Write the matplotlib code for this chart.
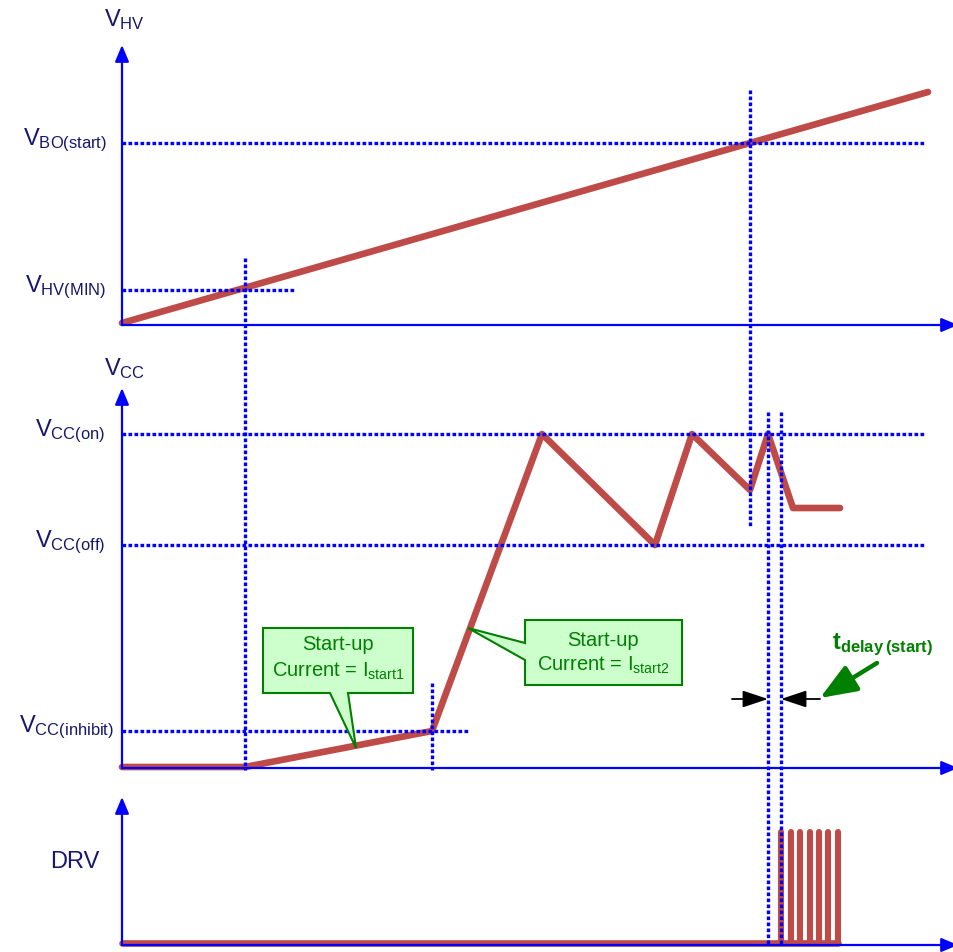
import matplotlib
matplotlib.use("Agg")
import matplotlib.pyplot as plt
from matplotlib.patches import Polygon

plt.rcParams['font.family'] = ['Liberation Sans', 'DejaVu Sans']
plt.rcParams['mathtext.fontset'] = 'custom'
plt.rcParams['mathtext.rm'] = 'Liberation Sans'
plt.rcParams['mathtext.bf'] = 'Liberation Sans:bold'
plt.rcParams['mathtext.default'] = 'regular'

RED = '#be4b48'
BLUE = '#0000ff'
NAVY = '#17176e'
GREEN = '#008000'

# everything in drawing units (x = time, y = screen height, top = 0)
x0 = 122
x_end = 958
hv_base, cc_base, drv_base = 325, 768, 945
hv_top, cc_top, drv_top = 45, 388, 797

# V_HV ramp
vhv_t = [122, 928]
vhv_v = [323, 92]
v_bo, v_hvmin = 143, 290

# V_CC waveform
vcc_t = [122, 245, 432, 542, 655, 692, 750, 768, 793, 840]
vcc_v = [767, 767, 731, 434, 545, 434, 490, 434, 508, 508]
v_ccon, v_ccoff, v_inhibit = 434, 545, 731

# DRV pulses
drv_low, drv_high = 943, 832
drv_pulses = [781.5, 791.5, 800.5, 810, 819, 828.5, 838]

# dotted markers: (x, y from, y to)
vmarks = [(245, 258, 770), (750, 90, 527), (432, 683, 770),
          (768, 412, 946), (781, 412, 946)]
hmarks = [(v_bo, 122, 925), (v_hvmin, 122, 295), (v_ccon, 122, 925),
          (v_ccoff, 122, 925), (v_inhibit, 122, 468)]

fig = plt.figure(figsize=(9.54, 9.52), dpi=100)
ax = fig.add_axes([0, 0, 1, 1])
ax.set_xlim(0, 954)
ax.set_ylim(952, 0)
ax.axis('off')

dot = dict(color=BLUE, lw=2.4, linestyle=(0, (1.1, 0.7)), zorder=3)
for x, ya, yb in vmarks:
    ax.plot([x, x], [ya, yb], **dot)
for y, xa, xb in hmarks:
    ax.plot([xa, xb], [y, y], **dot)

# axes with arrows
arr = dict(arrowstyle='-|>,head_length=1.0,head_width=0.42', color=BLUE, lw=1.6,
           mutation_scale=10, shrinkA=0, shrinkB=0)
for base, top in [(hv_base, hv_top), (cc_base, cc_top), (drv_base, drv_top)]:
    ax.annotate('', xy=(x0, top), xytext=(x0, base), arrowprops=arr, zorder=4,
                annotation_clip=False)
    ax.annotate('', xy=(x_end, base), xytext=(x0, base), arrowprops=arr, zorder=4,
                annotation_clip=False)

# waveforms
lw_tr = 4.8
ax.plot(vhv_t, vhv_v, color=RED, lw=lw_tr, solid_capstyle='round', zorder=2)
ax.plot(vcc_t, vcc_v, color=RED, lw=lw_tr, solid_capstyle='round',
        solid_joinstyle='round', zorder=2)
ax.plot([x0, drv_pulses[-1]], [drv_low, drv_low], color=RED, lw=lw_tr,
        solid_capstyle='round', zorder=2)
for p in drv_pulses:
    ax.plot([p, p], [drv_low, drv_high], color=RED, lw=4.4,
            solid_capstyle='round', zorder=2)

# level labels
lab = dict(color=NAVY, fontsize=17, va='center')
ax.text(104, 20, r'$V_{HV}$', ha='left', **lab)
ax.text(104, 369, r'$V_{CC}$', ha='left', **lab)
ax.text(107, 140, r'$V_{BO(start)}$', ha='right', **lab)
ax.text(106, 287, r'$V_{HV(MIN)}$', ha='right', **lab)
ax.text(105, 431, r'$V_{CC(on)}$', ha='right', **lab)
ax.text(105, 542, r'$V_{CC(off)}$', ha='right', **lab)
ax.text(114, 727, r'$V_{CC(inhibit)}$', ha='right', **lab)
ax.text(100, 862, 'DRV', ha='right', **lab)

# callouts
call1 = [(263, 628), (413, 628), (413, 693), (348, 693), (356, 748),
         (330, 693), (263, 693)]
call2 = [(525, 620), (682, 620), (682, 685), (525, 685), (525, 660),
         (468, 628), (525, 643)]
for pts in (call1, call2):
    ax.add_patch(Polygon(pts, closed=True, facecolor='#ccffcc',
                         edgecolor=GREEN, lw=1.5, zorder=5))
ctxt = dict(color=GREEN, fontsize=14.5, ha='center', va='center', zorder=6)
ax.text(338, 645, 'Start-up', **ctxt)
ax.text(338, 671, r'Current = $I_{start1}$', **ctxt)
ax.text(603, 640, 'Start-up', **ctxt)
ax.text(603, 665, r'Current = $I_{start2}$', **ctxt)

# t_delay arrows
blk = dict(arrowstyle='-|>,head_length=1.2,head_width=0.4', color='black', lw=1.3,
           mutation_scale=13, shrinkA=0, shrinkB=0)
ax.annotate('', xy=(768, 699), xytext=(732, 699), arrowprops=blk, zorder=6)
ax.annotate('', xy=(781, 699), xytext=(820, 699), arrowprops=blk, zorder=6)
ax.annotate('', xy=(820, 698), xytext=(877, 663),
            arrowprops=dict(arrowstyle='-|>,head_length=1.4,head_width=0.55',
                            color=GREEN, lw=3.2, mutation_scale=16,
                            shrinkA=0, shrinkB=0), zorder=6)
ax.text(832, 645, r'$\mathbf{t_{delay\,(start)}}$', color=GREEN, fontsize=17,
        ha='left', va='center')

fig.savefig('out.png', dpi=100)
